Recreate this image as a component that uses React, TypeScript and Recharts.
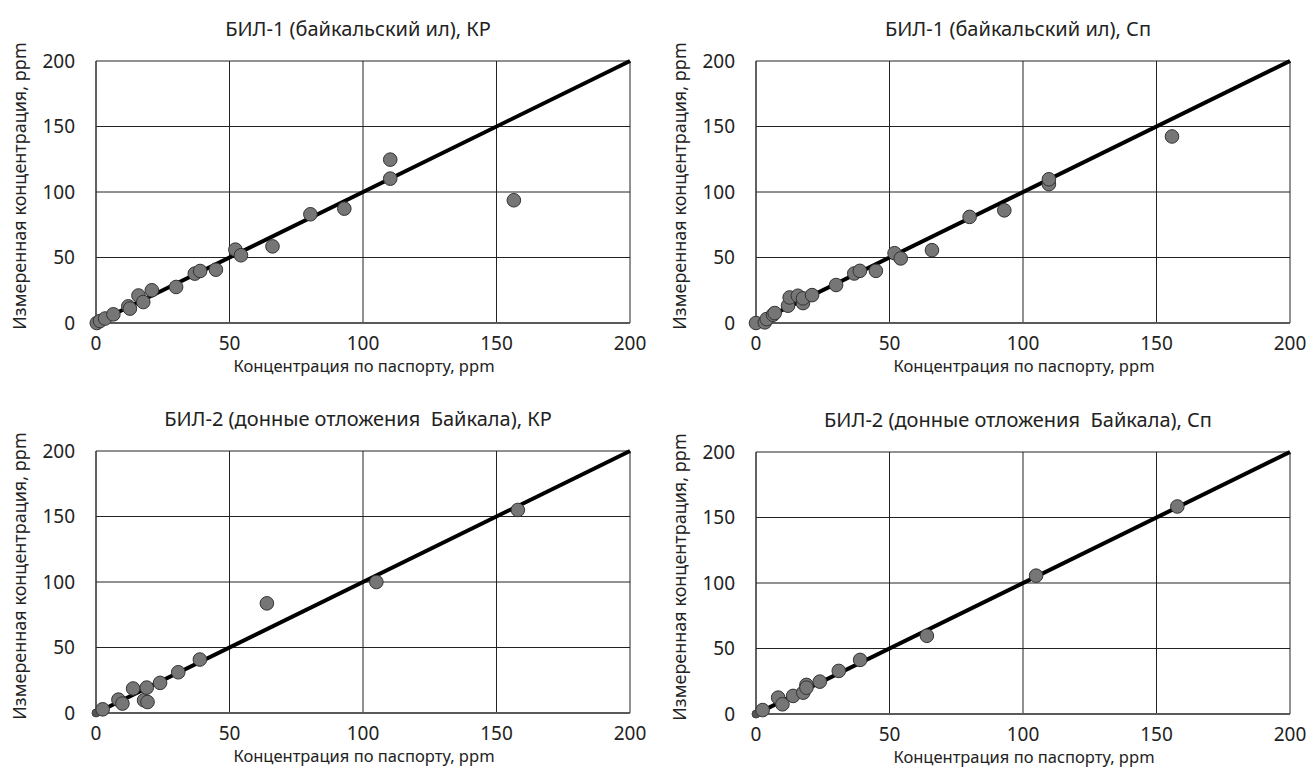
import { CartesianGrid, Scatter, ScatterChart, XAxis, YAxis } from "recharts";

// точки: x — концентрация по паспорту, y — измеренная (ppm)
const bil1Kr = [
  { x: 0.3, y: 0 }, { x: 1.5, y: 1.5 }, { x: 3.4, y: 3.4 }, { x: 6.5, y: 6.6 },
  { x: 12.1, y: 12.7 }, { x: 12.7, y: 11 }, { x: 15.9, y: 21 }, { x: 17.7, y: 16 },
  { x: 20.9, y: 25 }, { x: 30, y: 27.5 }, { x: 37, y: 37.7 }, { x: 39, y: 39.7 },
  { x: 44.9, y: 40.7 }, { x: 52.2, y: 56 }, { x: 54.3, y: 51.7 }, { x: 66.1, y: 58.5 },
  { x: 80.3, y: 83 }, { x: 93, y: 87.3 }, { x: 110.2, y: 124.7 }, { x: 110.2, y: 110.2 },
  { x: 156.5, y: 93.7 },
];

const bil1Sp = [
  { x: 0, y: 0 }, { x: 3.3, y: 0.5 }, { x: 4, y: 3 }, { x: 6.4, y: 6.3 }, { x: 7, y: 7.6 },
  { x: 12, y: 13.2 }, { x: 12.6, y: 19.5 }, { x: 15.7, y: 20.8 }, { x: 17.6, y: 15.2 },
  { x: 17.6, y: 18.8 }, { x: 21, y: 21.3 }, { x: 30, y: 29 }, { x: 36.8, y: 37.8 },
  { x: 38.9, y: 39.8 }, { x: 44.9, y: 39.8 }, { x: 51.9, y: 53.3 }, { x: 54.2, y: 49.3 },
  { x: 65.9, y: 55.6 }, { x: 80, y: 81 }, { x: 93, y: 86 }, { x: 109.7, y: 106 },
  { x: 109.7, y: 109.7 }, { x: 155.8, y: 142.4 },
];

const bil2Kr = [
  { x: 2.5, y: 2.8 }, { x: 8.4, y: 10.2 }, { x: 9.9, y: 7.2 }, { x: 13.9, y: 18.7 },
  { x: 18, y: 9.7 }, { x: 19.3, y: 8.4 }, { x: 19, y: 19.4 }, { x: 24, y: 23 },
  { x: 30.8, y: 31.1 }, { x: 38.9, y: 40.8 }, { x: 64, y: 83.7 }, { x: 105, y: 100 },
  { x: 158, y: 155 },
];

const bil2Sp = [
  { x: 2.5, y: 3 }, { x: 8.3, y: 12.5 }, { x: 9.9, y: 7.4 }, { x: 13.9, y: 13.8 },
  { x: 17.7, y: 16.3 }, { x: 18.9, y: 22.2 }, { x: 18.9, y: 20.1 }, { x: 23.9, y: 24.7 },
  { x: 31, y: 32.9 }, { x: 39, y: 41.3 }, { x: 64, y: 59.7 }, { x: 104.9, y: 105.6 },
  { x: 157.8, y: 158.4 },
];

// маленький маркер в нуле на нижних графиках
const originPoint = [{ x: 0, y: 0 }];

// линия 1:1
const diagonal = [{ x: 0, y: 0 }, { x: 200, y: 200 }];

const axisTicks = [0, 50, 100, 150, 200];

const titles = [
  "БИЛ-1 (байкальский ил), КР",
  "БИЛ-1 (байкальский ил), Сп",
  "БИЛ-2 (донные отложения  Байкала), КР",
  "БИЛ-2 (донные отложения  Байкала), Сп",
];

const xLabel = "Концентрация по паспорту, ppm";
const yLabel = "Измеренная концентрация, ppm";

const FONT = "'Noto Sans', 'Open Sans', sans-serif";

function Dot(props: any) {
  return <circle cx={props.cx} cy={props.cy} r={6.8} fill="#767676" stroke="#333" strokeWidth={1} />;
}

function SmallDot(props: any) {
  return <circle cx={props.cx} cy={props.cy} r={4} fill="#555" stroke="#444" strokeWidth={1} />;
}

function NoDot() {
  return <g />;
}

function Panel({
  left,
  top,
  title,
  data,
  withOrigin,
}: {
  left: number;
  top: number;
  title: string;
  data: { x: number; y: number }[];
  withOrigin?: boolean;
}) {
  return (
    <div style={{ position: "absolute", left, top, width: 650, height: 383, fontFamily: FONT }}>
      <ScatterChart width={650} height={383} margin={{ top: 61, right: 20, bottom: 30, left: 46 }}>
        <CartesianGrid stroke="#222" strokeWidth={1} />
        <XAxis
          type="number"
          dataKey="x"
          domain={[0, 200]}
          ticks={axisTicks}
          tickLine={false}
          tickSize={5}
          tickMargin={9}
          height={30}
          axisLine={{ stroke: "#5a5a5a", strokeWidth: 2 }}
          tick={{ fontSize: 19, fill: "#222", fontFamily: FONT }}
        />
        <YAxis
          type="number"
          dataKey="y"
          domain={[0, 200]}
          ticks={axisTicks}
          tickLine={false}
          tickSize={6}
          tickMargin={15}
          width={50}
          axisLine={{ stroke: "#333", strokeWidth: 1 }}
          tick={{ fontSize: 19, fill: "#222", fontFamily: FONT }}
        />
        <Scatter
          data={diagonal}
          line={{ stroke: "#000", strokeWidth: 4 }}
          shape={NoDot}
          isAnimationActive={false}
        />
        {withOrigin && <Scatter data={originPoint} shape={SmallDot} isAnimationActive={false} />}
        <Scatter data={data} shape={Dot} isAnimationActive={false} />
      </ScatterChart>
      <div
        style={{
          position: "absolute",
          left: 358,
          top: 28,
          transform: "translate(-50%, -50%)",
          fontSize: 20,
          whiteSpace: "pre",
          color: "#222",
        }}
      >
        {title}
      </div>
      <div
        style={{
          position: "absolute",
          left: 364,
          top: 366,
          transform: "translate(-50%, -50%)",
          fontSize: 16.5,
          lineHeight: "18px",
          whiteSpace: "nowrap",
          color: "#222",
        }}
      >
        {xLabel}
      </div>
      <div
        style={{
          position: "absolute",
          left: 19,
          top: 186,
          transform: "translate(-50%, -50%) rotate(-90deg)",
          fontSize: 18,
          whiteSpace: "nowrap",
          color: "#222",
        }}
      >
        {yLabel}
      </div>
    </div>
  );
}

export default function App() {
  return (
    <div
      style={{
        position: "fixed",
        left: 0,
        top: 0,
        width: 1313,
        height: 773,
        background: "#fff",
        overflow: "hidden",
      }}
    >
      <Panel left={0} top={0} title={titles[0]} data={bil1Kr} />
      <Panel left={660} top={0} title={titles[1]} data={bil1Sp} />
      <Panel left={0} top={390} title={titles[2]} data={bil2Kr} withOrigin />
      <Panel left={660} top={391} title={titles[3]} data={bil2Sp} withOrigin />
    </div>
  );
}
